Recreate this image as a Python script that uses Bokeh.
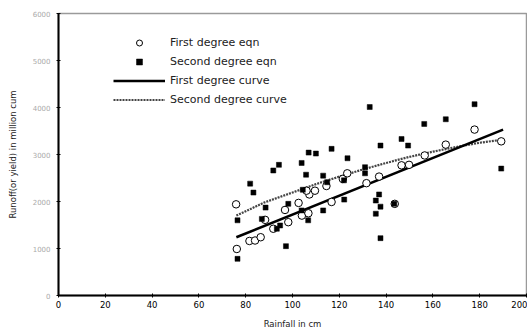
from bokeh.plotting import figure
from bokeh.models import Range1d, FixedTicker, Legend, LegendItem
from bokeh.embed import file_html
from bokeh.resources import INLINE

# Data
first_x = [76.2, 75.9, 81.6, 84.0, 86.4, 88.3, 91.8, 98.2, 96.8, 102.6, 104.0, 106.8, 107.2, 106.0,
           109.6, 114.5, 116.7, 121.5, 123.4, 131.6, 137.0, 143.7, 146.6, 149.8, 156.5, 165.5, 177.8, 189.2]
first_y = [990, 1940, 1160, 1170, 1240, 1610, 1420, 1560, 1820, 1970, 1700, 1750, 2150, 2230,
           2230, 2330, 1990, 2480, 2600, 2390, 2530, 1950, 2770, 2780, 2980, 3210, 3530, 3280]

second_x = [76.5, 76.5, 81.9, 83.3, 86.9, 88.5, 91.8, 94.2, 93.3, 94.7, 97.2, 98.2, 103.9, 105.8,
            104.4, 103.9, 106.7, 106.9, 110.0, 113.1, 113.1, 114.8, 116.7, 122.0, 122.1, 123.5, 131.0,
            131.0, 133.0, 135.6, 135.6, 137.0, 137.6, 137.6, 137.6, 143.5, 146.6, 149.4, 156.3, 165.5,
            177.8, 189.2]
second_y = [780, 1600, 2380, 2190, 1630, 1870, 2660, 2780, 1420, 1490, 1050, 1950, 2820, 2570,
            2250, 1810, 1600, 3040, 3020, 2550, 1810, 2410, 3120, 2450, 2040, 2920, 2730,
            2600, 4010, 1740, 2020, 2150, 1890, 1220, 3190, 1950, 3330, 3190, 3650, 3750,
            4070, 2700]

line1_x = [76, 190]
line1_y = [1240, 3530]

curve2_x = [76, 88, 100, 110, 120, 130, 140, 150, 160, 170, 180, 189]
curve2_y = [1700, 1980, 2190, 2370, 2530, 2680, 2820, 2950, 3060, 3160, 3250, 3310]

x_ticks = [0, 20, 40, 60, 80, 100, 120, 140, 160, 180, 200]
y_ticks = [0, 1000, 2000, 3000, 4000, 5000, 6000]

p = figure(width=527, height=333, output_backend="svg", toolbar_location=None,
           x_range=Range1d(0, 200), y_range=Range1d(0, 6000),
           min_border_left=58, min_border_right=1, min_border_top=13, min_border_bottom=38)
p.background_fill_color = "white"
p.border_fill_color = "white"
p.outline_line_color = "#9a9a9a"
p.outline_line_width = 1.5
p.xgrid.visible = False
p.ygrid.visible = False

r_line2 = p.line(curve2_x, curve2_y, line_color="#444444", line_width=2.2, line_dash="2 1")
r_line1 = p.line(line1_x, line1_y, line_color="black", line_width=2.5)
r_first = p.scatter(first_x, first_y, marker="circle", size=7.5, fill_color="white",
                    line_color="black", line_width=1)
r_second = p.scatter(second_x, second_y, marker="square", size=5, fill_color="black",
                     line_color="black", line_width=0.5)

# Axes
p.xaxis.ticker = FixedTicker(ticks=x_ticks)
p.yaxis.ticker = FixedTicker(ticks=y_ticks)
p.xaxis.minor_tick_line_color = None
p.yaxis.minor_tick_line_color = None
for ax in (p.xaxis[0], p.yaxis[0]):
    ax.axis_line_color = "black"
    ax.axis_line_width = 2
    ax.major_tick_line_color = "black"
    ax.major_tick_in = 2
    ax.major_tick_out = 2
    ax.major_label_text_font = "DejaVu Sans"
    ax.axis_label_text_font = "DejaVu Sans"
    ax.axis_label_text_font_style = "normal"
    ax.axis_label_text_font_size = "8.5px"
    ax.axis_label_text_color = "#222222"

p.xaxis.axis_label = "Rainfall in cm"
p.xaxis.major_label_text_font_size = "8.5px"
p.xaxis.major_label_text_color = "black"
p.xaxis.major_label_standoff = 3
p.xaxis.axis_label_standoff = 8

p.yaxis.axis_label = "Runoff(or yield) in million cum"
p.yaxis.major_label_text_font_size = "7px"
p.yaxis.major_label_text_color = "#aaaaaa"
p.yaxis.major_label_standoff = 6
p.yaxis.axis_label_standoff = 12

legend = Legend(items=[
    LegendItem(label="First degree eqn", renderers=[r_first]),
    LegendItem(label="Second degree eqn", renderers=[r_second]),
    LegendItem(label="First degree curve", renderers=[r_line1]),
    LegendItem(label="Second degree curve", renderers=[r_line2]),
], location=(55, 188))
legend.glyph_width = 52
legend.glyph_height = 15
legend.label_height = 15
legend.spacing = 4
legend.padding = 0
legend.margin = 0
legend.label_standoff = 5
legend.border_line_color = None
legend.background_fill_alpha = 0
legend.label_text_font = "DejaVu Sans"
legend.label_text_font_size = "11px"
legend.label_text_color = "#222222"
p.add_layout(legend, "center")

open("out.html", "w").write(file_html(p, INLINE))
